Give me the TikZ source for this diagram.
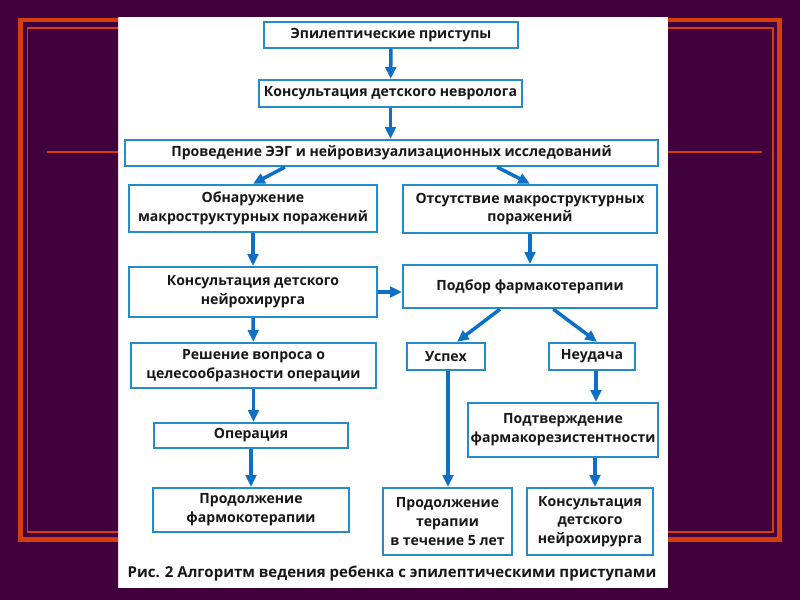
\documentclass[tikz,border=0pt]{standalone}
\usepackage{fontspec}
\setmainfont{Open Sans}
\usepackage{tikz}
\usetikzlibrary{calc,arrows.meta}

\definecolor{bgpurple}{RGB}{64,0,60}
\definecolor{frameorange}{RGB}{214,60,12}
\definecolor{boxblue}{RGB}{36,140,205}
\definecolor{arrowblue}{RGB}{14,112,196}
\definecolor{textgray}{RGB}{26,22,24}

\begin{document}
\begin{tikzpicture}[x=0.03cm, y=-0.03cm,
  box/.style={draw=boxblue, line width=2pt, fill=white, align=center, inner sep=1pt,
    font=\bfseries\fontsize{12}{16}\selectfont, text=textgray},
  arr/.style={arrowblue, line width=3pt, -{Triangle[length=10pt,width=9pt]}}]
% background and frame
\fill [bgpurple] (0,0) rectangle (800,600);
\draw [frameorange, line width=4pt] (20.5,20) rectangle (779.5,539.5);
\draw [frameorange, line width=1.2pt] (27.5,28) rectangle (773,532);
\draw [frameorange, line width=1.2pt] (47,152) -- (762,152);
\fill [white] (118,17) rectangle (668,588);
\draw [white!85!violet, line width=1pt] (118.5,17) -- (118.5,588);

% boxes
\node [box, minimum width=7.62cm, minimum height=0.78cm] (ep) at (391,35) {Эпилептические приступы};
\node [box, minimum width=7.89cm, minimum height=0.81cm] (nevr) at (390.5,93.5) {Консультация детского невролога};
\node [box, minimum width=15.99cm, minimum height=0.78cm] (eeg) at (391.5,153) {Проведение ЭЭГ и нейровизуализационных исследований};
\node [box, minimum width=7.44cm, minimum height=1.41cm] (obn) at (253,208.5) {Обнаружение\\макроструктурных поражений};
\node [box, minimum width=7.62cm, minimum height=1.44cm] (ots) at (530,209) {Отсутствие макроструктурных\\поражений};
\node [box, minimum width=7.44cm, minimum height=1.5cm] (nhl) at (253,292) {Консультация детского\\нейрохирурга};
\node [box, minimum width=7.62cm, minimum height=1.29cm] (podb) at (530,286.5) {Подбор фармакотерапии};
\node [box, minimum width=2.34cm, minimum height=0.81cm] (usp) at (446,356.5) {Успех};
\node [box, minimum width=2.58cm, minimum height=0.81cm] (neud) at (592,356.5) {Неудача};
\node [box, minimum width=7.35cm, minimum height=1.35cm] (resh) at (253.5,365.5) {Решение вопроса о\\целесообразности операции};
\node [box, minimum width=5.82cm, minimum height=0.75cm] (oper) at (251,435.5) {Операция};
\node [box, minimum width=5.88cm, minimum height=1.32cm] (prodl) at (251,510) {Продолжение\\фармокотерапии};
\node [box, minimum width=5.7cm, minimum height=1.62cm] (podt) at (563,430) {Подтверждение\\фармакорезистентности};
\node [box, minimum width=3.87cm, minimum height=2.01cm] (prter) at (447.5,521.5) {Продолжение\\терапии\\в течение 5 лет};
\node [box, minimum width=3.78cm, minimum height=2.01cm] (nhr) at (590,521.5) {Консультация\\детского\\нейрохирурга};
\node [font=\bfseries\fontsize{12.8}{16}\selectfont, text=textgray] (caption) at (392,574) {Рис. 2 Алгоритм ведения ребенка с эпилептическими приступами};

% arrows
\draw [arr] (ep) -- (nevr);
\draw [arr] (nevr) -- (nevr.south |- eeg.north);
\draw [arr] ([xshift=-3.2cm]eeg.south) -- (obn.north);
\draw [arr] ([xshift=3.17cm]eeg.south) -- (ots.north);
\draw [arr] (obn) -- (nhl);
\draw [arr] (ots) -- (podb);
\draw [arr] (nhl.east) -- (nhl.east -| podb.west);
\draw [arr] (nhl) -- (resh);
\draw [arr] ([xshift=-0.9cm]podb.south) -- ([xshift=0.33cm]usp.north);
\draw [arr] ([xshift=0.7cm]podb.south) -- ([xshift=0.15cm]neud.north);
\draw [arr] (resh.south) -- (resh.south |- oper.north);
\draw [arr] (oper) -- (prodl);
\draw [arr] ([xshift=0.06cm]usp.south) -- ([xshift=0.06cm]usp.south |- prter.north);
\draw [arr] ([xshift=0.12cm]neud.south) -- ([xshift=0.12cm]neud.south |- podt.north);
\draw [arr] ([xshift=0.15cm]nhr.north |- podt.south) -- ([xshift=0.15cm]nhr.north);
\end{tikzpicture}
\end{document}
